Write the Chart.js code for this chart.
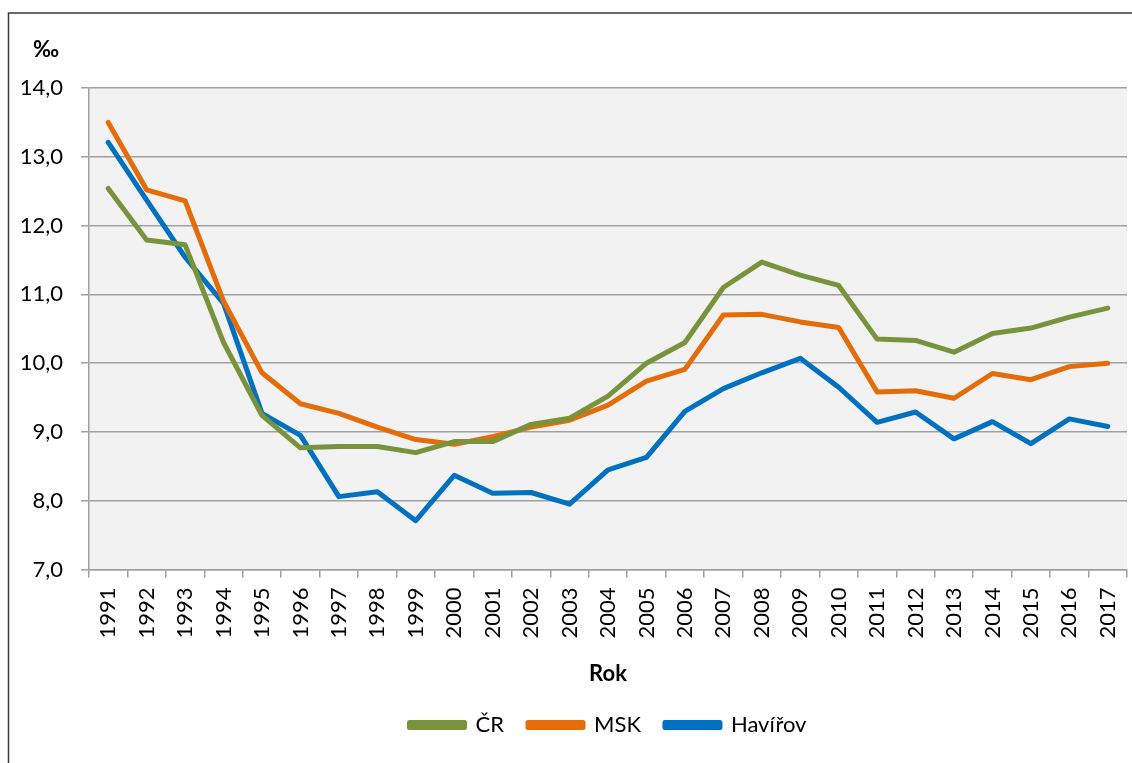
<!DOCTYPE html>
<html lang="cs">
<head>
<meta charset="utf-8">
<title>Graf</title>
<script src="https://cdn.jsdelivr.net/npm/chart.js@4"></script>
<style>
    html, body { margin: 0; padding: 0; background: #fff; }
    #obal { position: relative; width: 1132px; height: 763px; }
</style>
</head>
<body>
<div id="obal"><canvas id="graf" width="1132" height="763"></canvas></div>
<script>
const roky = ["1991","1992","1993","1994","1995","1996","1997","1998","1999","2000",
    "2001","2002","2003","2004","2005","2006","2007","2008","2009","2010",
    "2011","2012","2013","2014","2015","2016","2017"];

const hodnotyCR = [12.54, 11.79, 11.72, 10.30, 9.24, 8.77, 8.79, 8.79, 8.70, 8.86,
    8.86, 9.11, 9.20, 9.52, 10.00, 10.30, 11.10, 11.47, 11.28, 11.13,
    10.35, 10.33, 10.16, 10.43, 10.51, 10.67, 10.80];

const hodnotyMSK = [13.50, 12.52, 12.36, 10.90, 9.86, 9.41, 9.27, 9.07, 8.89, 8.82,
    8.93, 9.07, 9.17, 9.39, 9.74, 9.91, 10.70, 10.71, 10.60, 10.52,
    9.58, 9.60, 9.49, 9.85, 9.76, 9.95, 10.00];

const hodnotyHavirov = [13.21, 12.37, 11.54, 10.87, 9.27, 8.95, 8.06, 8.13, 7.71, 8.37,
    8.11, 8.12, 7.95, 8.45, 8.63, 9.30, 9.63, 9.86, 10.07, 9.65,
    9.14, 9.29, 8.90, 9.15, 8.83, 9.19, 9.08];

const nazvyRad = ["ČR", "MSK", "Havířov"];
const barvy = ["#77933c", "#e46c0a", "#0070c0"];
const jednotka = "‰";

const pismo = "Lato, 'Liberation Sans', sans-serif";

// ramecek kolem grafu, sede pozadi plochy a jednotka vlevo nahore
const pozadi = {
    id: "pozadi",
    beforeDraw(chart) {
        const ctx = chart.ctx;
        const a = chart.chartArea;
        ctx.save();
        ctx.fillStyle = "#f2f2f2";
        ctx.fillRect(a.left, a.top, a.right - a.left, a.bottom - a.top);
        ctx.strokeStyle = "#3a3a3a";
        ctx.lineWidth = 1.5;
        ctx.beginPath();
        ctx.moveTo(8.5, 770);
        ctx.lineTo(8.5, 13);
        ctx.lineTo(1140, 13);
        ctx.stroke();
        ctx.fillStyle = "#000";
        ctx.font = "bold 22px " + pismo;
        ctx.textBaseline = "middle";
        ctx.fillText(jednotka, 33, 50);
        ctx.restore();
    }
};

function formatarCislo(v) {
    return v.toFixed(1).replace(".", ",");
}

function sada(i, data) {
    return {
        label: nazvyRad[i],
        data: data,
        borderColor: barvy[i],
        backgroundColor: barvy[i],
        borderWidth: 5,
        pointRadius: 0,
        pointHoverRadius: 0,
        tension: 0,
        borderCapStyle: "round",
        borderJoinStyle: "round"
    };
}

new Chart(document.getElementById("graf"), {
    type: "line",
    data: {
        labels: roky,
        datasets: [sada(0, hodnotyCR), sada(1, hodnotyMSK), sada(2, hodnotyHavirov)]
    },
    plugins: [pozadi],
    options: {
        responsive: false,
        animation: false,
        layout: { padding: { left: 15, right: 5, top: 88, bottom: 17 } },
        plugins: {
            title: { display: false },
            legend: {
                position: "bottom",
                fullSize: false,
                labels: {
                    color: "#000",
                    font: { family: pismo, size: 22 },
                    boxWidth: 55,
                    boxHeight: 5,
                    padding: 24
                }
            },
            tooltip: { enabled: false }
        },
        scales: {
            x: {
                offset: true,
                afterFit(scale) {
                    scale.paddingLeft = 0;
                    scale.paddingRight = 0;
                },
                grid: {
                    offset: true,
                    drawOnChartArea: false,
                    drawTicks: true,
                    tickLength: 8,
                    color: "#a0a0a0",
                    lineWidth: 1.5
                },
                border: { color: "#a0a0a0", width: 1.5 },
                ticks: {
                    color: "#000",
                    font: { family: pismo, size: 22 },
                    minRotation: 90,
                    maxRotation: 90,
                    padding: 10,
                    autoSkip: false
                },
                title: {
                    display: true,
                    text: "Rok",
                    color: "#000",
                    font: { family: pismo, size: 22, weight: "bold" },
                    padding: { top: 12, bottom: 3 }
                }
            },
            y: {
                min: 7,
                max: 14,
                afterFit(scale) { scale.width = 74; },
                grid: {
                    color: "#a0a0a0",
                    lineWidth: 1.5,
                    tickLength: 8
                },
                border: { color: "#a0a0a0", width: 1.5 },
                ticks: {
                    stepSize: 1,
                    color: "#000",
                    padding: 18,
                    font: { family: pismo, size: 22 },
                    callback: function (v) { return formatarCislo(v); }
                }
            }
        }
    }
});
</script>
</body>
</html>
